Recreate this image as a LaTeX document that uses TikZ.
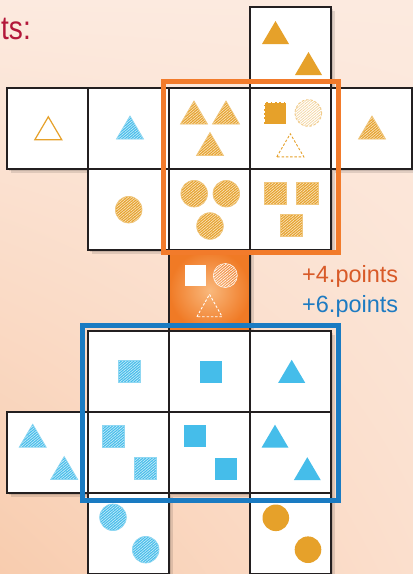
\documentclass[tikz,border=0pt]{standalone}
\usepackage{fontspec}
\setmainfont{Liberation Sans}
\newfontfamily\narrowfont[FakeStretch=0.85]{Liberation Sans}
\usepackage{tikz}
\usetikzlibrary{patterns.meta, shadings}

\definecolor{bgtop}{HTML}{FCEADF}
\definecolor{bgmid}{HTML}{FBDFCD}
\definecolor{bgcorner}{HTML}{F8CCAE}
\definecolor{crimson}{HTML}{B3173A}
\definecolor{gold}{HTML}{E6A12A}
\definecolor{sky}{HTML}{45BDEA}
\definecolor{tileline}{HTML}{231F20}
\definecolor{frameorange}{HTML}{F27B2B}
\definecolor{frameblue}{HTML}{1A7BC2}
\definecolor{pointsorange}{HTML}{D85A28}
\definecolor{pointsblue}{HTML}{1E7BC2}
\definecolor{hotinner}{HTML}{F9B87C}
\definecolor{hotouter}{HTML}{F07A25}

% tile symbols, centred at (#2,#3)
\newcommand{\trishape}[3]{\path[#1] (#2-13.5,#3+11.5) -- (#2,#3-11.5) -- (#2+13.5,#3+11.5) -- cycle;}
\newcommand{\sqshape}[3]{\path[#1] (#2-11,#3-11) rectangle (#2+11,#3+11);}
\newcommand{\discshape}[3]{\path[#1] (#2,#3) circle (13.3);}

\begin{document}
\begin{tikzpicture}[x=1pt, y=-1pt,
  tile/.style={fill=white, draw=tileline, line width=2.8pt},
  tileshadow/.style={fill=black, opacity=.11},
  hatchgold/.style={preaction={fill=gold}, pattern={Lines[angle=40,distance=2pt,line width=.7pt]},
    pattern color=white!70!gold, draw=gold!60, line width=.7pt},
  hatchsky/.style={preaction={fill=sky}, pattern={Lines[angle=40,distance=2pt,line width=.7pt]},
    pattern color=white!70!sky, draw=sky!60, line width=.7pt},
  solidgold/.style={fill=gold},
  solidsky/.style={fill=sky},
  dashline/.style={dash pattern=on 2.5pt off 1.8pt, line width=.9pt}]
  \useasboundingbox (0,0) rectangle (413,574);
  \shade[upper left=bgtop, upper right=bgtop, lower left=bgcorner, lower right=bgmid]
    (0,0) rectangle (413,574);
  \node[anchor=base east, text=crimson, font=\narrowfont\fontsize{33}{36}\selectfont, inner sep=0pt]
    (title) at (31,39.3) {ts:};
  % shadows first, then the tiles
  \foreach \c/\r in {3/0, 0/1, 1/1, 2/1, 3/1, 4/1, 1/2, 2/2, 3/2, 2/3, 1/4, 2/4, 3/4, 0/5, 1/5, 2/5, 3/5, 1/6, 3/6} {
    \fill[tileshadow] ({7+81*\c+2},{7+81*\r+2}) rectangle ++(81,81);
    \fill[tileshadow] ({7+81*\c+4},{7+81*\r+4}) rectangle ++(81,81);
  }
  \foreach \c/\r in {3/0, 0/1, 1/1, 2/1, 3/1, 4/1, 1/2, 2/2, 3/2, 1/4, 2/4, 3/4, 0/5, 1/5, 2/5, 3/5, 1/6, 3/6}
    \draw[tile] ({7+81*\c},{7+81*\r}) rectangle ++(81,81);
  % the hot tile
  \shade[inner color=hotinner, outer color=hotouter] (169,250) rectangle ++(81,81);
  \draw[tileline, line width=2.8pt] (169,250) rectangle ++(81,81);
  % row 0
  \trishape{solidgold}{275.5}{32.5}
  \trishape{solidgold}{308.5}{63.5}
  % row 1
  \trishape{draw=gold, line width=1.2pt}{48.3}{128.3}
  \trishape{hatchsky}{130}{127.5}
  \trishape{hatchgold}{194}{112.5}
  \trishape{hatchgold}{226}{112.5}
  \trishape{hatchgold}{210}{144}
  \sqshape{solidgold, draw=white, dashline}{275.3}{113}
  \discshape{fill=white, pattern={Lines[angle=40,distance=2pt,line width=.7pt]}, pattern color=gold!45,
    draw=gold!55, dashline}{308.3}{113}
  \trishape{draw=gold, dashline}{290.3}{145.3}
  \trishape{hatchgold}{372}{127.5}
  % row 2
  \discshape{hatchgold}{128.7}{209.7}
  \discshape{hatchgold}{194.2}{193.7}
  \discshape{hatchgold}{226.3}{193.7}
  \discshape{hatchgold}{210}{226}
  \sqshape{hatchgold}{275.3}{193.3}
  \sqshape{hatchgold}{307.5}{193.3}
  \sqshape{hatchgold}{291.7}{225.3}
  % row 3
  \path[fill=white] (185,265) rectangle (205.5,285.5);
  \path[pattern={Lines[angle=40,distance=2pt,line width=.7pt]}, pattern color=white!90!hotinner,
    draw=white!85!hotinner, line width=.6pt] (225.3,275.5) circle (12);
  \path[draw=white, dashline] (196.9,316.7) -- (209.5,294.3) -- (222.1,316.7) -- cycle;
  % row 4
  \sqshape{hatchsky}{129.2}{371.5}
  \sqshape{solidsky}{210.5}{371.5}
  \trishape{solidsky}{291.7}{371.3}
  % row 5
  \trishape{hatchsky}{32.7}{435.7}
  \trishape{hatchsky}{64.2}{468}
  \sqshape{hatchsky}{113.2}{436.5}
  \sqshape{hatchsky}{145.2}{468.5}
  \sqshape{solidsky}{194.5}{436.2}
  \sqshape{solidsky}{226.3}{468.7}
  \trishape{solidsky}{275}{436.2}
  \trishape{solidsky}{307.3}{468.7}
  % row 6
  \discshape{hatchsky}{113}{517.3}
  \discshape{hatchsky}{145.7}{549.7}
  \discshape{solidgold}{275.8}{517.8}
  \discshape{solidgold}{308}{549.7}
  % frames
  \draw[frameorange, line width=5pt] (163,81) rectangle (338.5,252);
  \draw[frameblue, line width=5pt] (82,325) rectangle (338.5,500);
  \node[anchor=base west, text=pointsorange, font=\fontsize{23.5}{27}\selectfont, inner sep=0pt]
    (plusfour) at (302,282) {+4.points};
  \node[anchor=base west, text=pointsblue, font=\fontsize{23.5}{27}\selectfont, inner sep=0pt]
    (plussix) at (302,312.7) {+6.points};
\end{tikzpicture}
\end{document}
